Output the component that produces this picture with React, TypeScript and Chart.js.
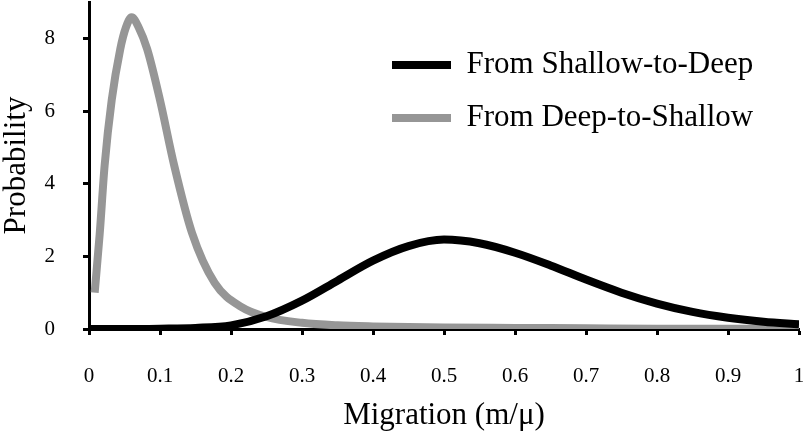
import React, { useEffect, useRef } from "react";
import { Chart, registerables } from "chart.js";

Chart.register(...registerables);

// ---- data ----
const xTickValues = [0, 0.1, 0.2, 0.3, 0.4, 0.5, 0.6, 0.7, 0.8, 0.9, 1];
const yTickValues = [0, 2, 4, 6, 8];

const seriesNames = ["From Shallow-to-Deep", "From Deep-to-Shallow"];
const xTitle = "Migration (m/\u03bc)";
const yTitle = "Probability";

const shallowToDeepX = [0, 0.05, 0.1, 0.15, 0.2, 0.25, 0.3, 0.35, 0.4, 0.45, 0.5, 0.55, 0.6, 0.65, 0.7, 0.75, 0.8, 0.85, 0.9, 0.95, 1.0];
const shallowToDeepY = [0, 0, 0.01, 0.03, 0.1, 0.35, 0.78, 1.33, 1.88, 2.28, 2.46, 2.36, 2.1, 1.75, 1.36, 1.0, 0.7, 0.47, 0.31, 0.2, 0.13];

const deepToShallowX = [0.008, 0.015, 0.022, 0.032, 0.044, 0.052, 0.06, 0.07, 0.082, 0.1, 0.12, 0.145, 0.177, 0.215, 0.25, 0.3, 0.35, 0.4, 0.5, 0.6, 0.7, 0.8, 0.9, 1.0];
const deepToShallowY = [1.0, 2.6, 4.5, 6.3, 7.7, 8.3, 8.58, 8.3, 7.7, 6.3, 4.5, 2.65, 1.27, 0.6, 0.33, 0.17, 0.1, 0.07, 0.04, 0.03, 0.02, 0.01, 0.01, 0.0];

const FONT = "'Liberation Serif', 'Times New Roman', serif";

function toPoints(xs: number[], ys: number[]) {
  return xs.map((x, i) => ({ x, y: ys[i] }));
}

// places the (vertical) legend block in the upper right of the plot
const legendPlacer = {
  id: "legendPlacer",
  afterLayout(chart: any) {
    const lg = chart.legend;
    if (!lg) return;
    const area = chart.chartArea;
    const w = lg.right - lg.left;
    lg.left = area.left + 281;
    lg.right = lg.left + w;
    const h = lg.bottom - lg.top;
    lg.top = area.top + 25.5;
    lg.bottom = lg.top + h;
  },
};

export default function App() {
  const canvasRef = useRef<HTMLCanvasElement | null>(null);

  useEffect(() => {
    const canvas = canvasRef.current;
    if (!canvas) return;
    const chart = new Chart(canvas, {
      type: "line",
      data: {
        datasets: [
          {
            label: seriesNames[0],
            data: toPoints(shallowToDeepX, shallowToDeepY),
            borderColor: "#000000",
            backgroundColor: "#000000",
            borderWidth: 8,
            pointRadius: 0,
            cubicInterpolationMode: "monotone",
            borderCapStyle: "butt",
          },
          {
            label: seriesNames[1],
            data: toPoints(deepToShallowX, deepToShallowY),
            borderColor: "#969696",
            backgroundColor: "#969696",
            borderWidth: 8,
            pointRadius: 0,
            cubicInterpolationMode: "monotone",
            borderCapStyle: "butt",
          },
        ],
      },
      options: {
        animation: false,
        responsive: false,
        devicePixelRatio: 1,
        layout: { padding: { top: 2, right: 11, left: 0, bottom: 0 } },
        plugins: {
          tooltip: { enabled: false },
          legend: {
            position: "chartArea",
            fullSize: false,
            align: "start",
            labels: {
              color: "#000",
              font: { family: FONT, size: 31 },
              boxWidth: 59,
              boxHeight: 8,
              padding: 22,
              generateLabels(chart: any) {
                return chart.data.datasets.map((ds: any, i: number) => ({
                  text: ds.label,
                  fillStyle: ds.borderColor,
                  strokeStyle: ds.borderColor,
                  lineWidth: 0,
                  hidden: false,
                  datasetIndex: i,
                }));
              },
            },
          },
        },
        scales: {
          x: {
            type: "linear",
            min: 0,
            max: 1,
            afterFit(scale: any) {
              scale.height = 106;
              scale.paddingLeft = 0;
              scale.paddingRight = 0;
            },
            afterBuildTicks(scale: any) {
              scale.ticks = xTickValues.map((v) => ({ value: v }));
            },
            border: { display: true, color: "#000", width: 3 },
            grid: {
              drawOnChartArea: false,
              drawTicks: true,
              tickLength: 6,
              tickWidth: 3,
              tickColor: "#000",
            },
            ticks: {
              color: "#000",
              font: { family: FONT, size: 21 },
              padding: 29,
              maxRotation: 0,
              autoSkip: false,
              callback: (v: any) => String(Math.round(Number(v) * 10) / 10),
            },
            title: {
              display: true,
              text: xTitle,
              color: "#000",
              font: { family: FONT, size: 31, lineHeight: 1 },
              padding: { top: 0, bottom: 4 },
            },
          },
          y: {
            type: "linear",
            min: 0,
            max: 9,
            afterFit(scale: any) {
              scale.width = 89;
              scale.paddingTop = 0;
              scale.paddingBottom = 0;
            },
            afterBuildTicks(scale: any) {
              scale.ticks = yTickValues.map((v) => ({ value: v }));
            },
            border: { display: true, color: "#000", width: 3 },
            grid: {
              drawOnChartArea: false,
              drawTicks: true,
              tickLength: 6,
              tickWidth: 3,
              tickColor: "#000",
            },
            ticks: {
              color: "#000",
              font: { family: FONT, size: 21 },
              padding: 28,
              autoSkip: false,
              callback: (v: any) => String(v),
            },
            title: {
              display: true,
              text: yTitle,
              color: "#000",
              font: { family: FONT, size: 31, lineHeight: 1 },
              padding: { top: 1, bottom: 0 },
            },
          },
        },
      },
      plugins: [legendPlacer],
    } as any);
    return () => chart.destroy();
  }, []);

  return (
    <div style={{ position: "absolute", left: 0, top: 0, width: 810, height: 435, background: "#fff" }}>
      <canvas ref={canvasRef} width={810} height={435} style={{ display: "block", width: 810, height: 435 }} />
    </div>
  );
}
